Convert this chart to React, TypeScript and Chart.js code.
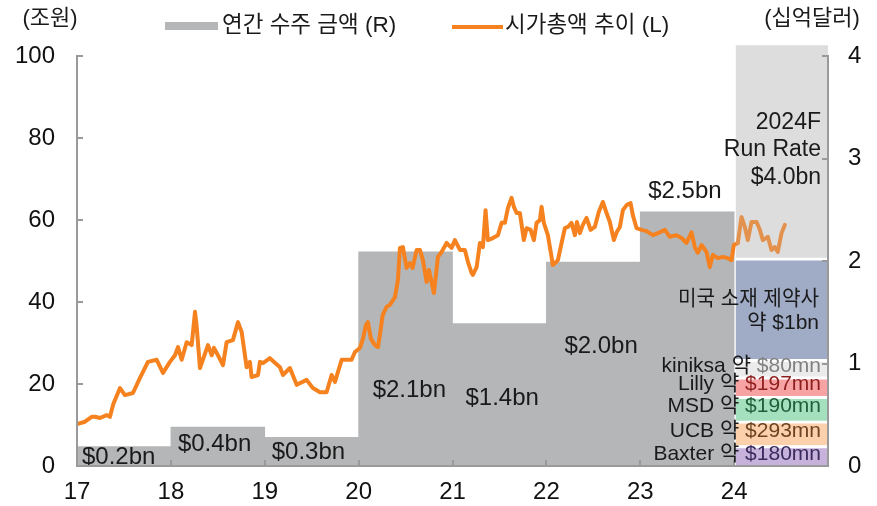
import React, { useEffect, useRef } from "react";
import { Chart, registerables } from "chart.js";

Chart.register(...registerables);

// ---------- data ----------
const xTickLabels = ["17", "18", "19", "20", "21", "22", "23", "24"];

const orderYears = [17, 18, 19, 20, 21, 22, 23];
const annualOrders = [0.19, 0.38, 0.28, 2.09, 1.39, 1.99, 2.48];
const orderLabels = ["$0.2bn", "$0.4bn", "$0.3bn", "$2.1bn", "$1.4bn", "$2.0bn", "$2.5bn"];

const forecastYear = 24;
const forecastParts = ["Baxter", "UCB", "MSD", "Lilly", "kiniksa", "미국 소재 제약사", "2024F Run Rate"];
const forecastValues = [0.2, 0.24, 0.24, 0.19, 0.17, 0.99, 2.1];
const partnerNames = ["Baxter 약 ", "UCB 약 ", "MSD 약 ", "Lilly 약 ", "kiniksa 약 "];
const partnerAmounts = ["$180mn", "$293mn", "$190mn", "$197mn", "$80mn"];
const usPharmaLines = ["미국 소재 제약사", "약 $1bn"];
const runRateLines = ["2024F", "Run Rate", "$4.0bn"];

const legendLabels = ["연간 수주 금액 (R)", "시가총액 추이 (L)"];
const unitLeft = "(조원)";
const unitRight = "(십억달러)";

const capYears = [
  17.0, 17.085, 17.157, 17.192, 17.245, 17.316, 17.351, 17.387, 17.458, 17.511, 17.596, 17.671, 17.756, 17.849, 17.916, 17.99,
  18.044, 18.076, 18.115, 18.168, 18.222, 18.257, 18.275, 18.31, 18.395, 18.435, 18.459, 18.502, 18.555, 18.594, 18.661, 18.715, 18.754, 18.807, 18.842, 18.86, 18.928, 18.949, 18.981,
  19.055, 19.162, 19.194, 19.268, 19.34, 19.446, 19.513, 19.588, 19.659, 19.712, 19.748, 19.819, 19.925, 19.961,
  20.014, 20.046, 20.078, 20.099, 20.131, 20.174, 20.206, 20.227, 20.256, 20.298, 20.333, 20.387, 20.419, 20.44, 20.472, 20.511, 20.546, 20.575, 20.618, 20.653, 20.685, 20.724, 20.749, 20.802, 20.845, 20.884, 20.937, 20.99,
  21.026, 21.079, 21.132, 21.164, 21.203, 21.217, 21.257, 21.292, 21.324, 21.352, 21.377, 21.43, 21.484, 21.523, 21.558, 21.59, 21.629, 21.654, 21.683, 21.718, 21.76, 21.789, 21.832, 21.867, 21.896, 21.931, 21.949, 21.973,
  22.016, 22.055, 22.069, 22.123, 22.162, 22.197, 22.229, 22.268, 22.304, 22.325, 22.357, 22.389, 22.428, 22.471, 22.516, 22.559, 22.602, 22.641, 22.676, 22.719, 22.748, 22.783, 22.815, 22.857, 22.897, 22.921, 22.961,
  23.014, 23.067, 23.134, 23.209, 23.262, 23.315, 23.387, 23.44, 23.493, 23.546, 23.581, 23.613, 23.653, 23.706, 23.741, 23.773, 23.826, 23.88, 23.933, 23.972, 23.997,
  24.039, 24.079, 24.114, 24.146, 24.185, 24.239, 24.274, 24.306, 24.359, 24.398, 24.433, 24.465, 24.505, 24.54,
];
const capValues = [
  10.2, 10.8, 12, 12, 11.7, 12.4, 12, 15.1, 19, 17.3, 17.8, 21.5, 25.4, 25.9, 22.7, 25.4,
  27, 29, 25.9, 30.2, 29.5, 37.6, 34, 23.9, 29.5, 27, 28.8, 27, 24.6, 30.2, 30.7, 35.1, 32.7, 24.1, 25.4, 21.7, 22.2, 25.4, 25.1,
  26.3, 24.1, 22.2, 23.9, 19.8, 21, 19, 18, 18, 22.2, 20.5, 25.9, 25.9, 27.8,
  28.8, 31, 34.4, 35.1, 31, 29.5, 29, 32, 36.8, 38.8, 39.3, 41.2, 45.4, 53.2, 53.4, 48.3, 49.5, 48.3, 52.7, 52.7, 50.2, 44.9, 47.8, 42.2, 51, 52.2, 54.4, 53.2,
  55.1, 52.7, 52.7, 49.8, 47.1, 46.6, 48.5, 54.4, 53.4, 62.4, 55.1, 55.6, 56.3, 59.3, 59.3, 62.9, 65.4, 63.2, 61.7, 61.7, 55.1, 58, 57.6, 55.1, 59.3, 60, 63.2, 59.3,
  56.3, 51, 49, 50.2, 54.4, 58, 58.3, 59.3, 56.3, 59.5, 56.8, 58.8, 60.5, 57.6, 58.3, 62, 64.4, 61.7, 59.5, 55.1, 57, 58.3, 62.4, 63.7, 64.1, 61.2, 58,
  57.6, 57.3, 56.3, 57, 57.6, 55.9, 56.3, 55.6, 54.4, 57, 53.4, 52, 53.9, 52.2, 48.5, 51.5, 50.7, 51, 50.7, 50.2, 53.9,
  54.4, 60.7, 58.3, 55.1, 59.5, 59.5, 57.6, 55.1, 55.9, 52.7, 53.4, 52.2, 56.8, 58.8,
];

// ---------- styles ----------
const FONT = '"Liberation Sans", "Noto Sans CJK KR", sans-serif';
const f = (px: number) => `${px}px ${FONT}`;
const AXIS = "#9a9a9a";
const TEXT = "#1a1a1a";
const BAR_GRAY = "#b5b6b8";
const ORANGE = "#f5821f";
const ORANGE_MUTED = "#e3924e";
const forecastColors = ["#c7b2dc", "#fcd0aa", "#a5e0be", "#f8a3a3", "#ebebeb", "#a0abc6", "#dddddd"];
const amountColors = ["#3a2a5c", "#6b4423", "#1e5e38", "#8e1f1f", "#808080"];

// cumulative ranges of the 2024 stack
const forecastRanges: [number, number][] = (() => {
  let acc = 0;
  return forecastValues.map((v) => {
    const r: [number, number] = [acc, acc + v];
    acc += v;
    return r;
  });
})();

const overlayPlugin = {
  id: "overlay",
  afterDatasetsDraw(chart: any) {
    const { ctx, chartArea: ca, scales } = chart;
    const xs = scales.x;
    const yl = scales.y;
    const yr = scales.y1;
    ctx.save();

    // inward tick marks
    ctx.strokeStyle = AXIS;
    ctx.lineWidth = 2;
    ctx.beginPath();
    yl.ticks.forEach((t: any) => {
      const py = Math.round(yl.getPixelForValue(t.value));
      ctx.moveTo(ca.left, py);
      ctx.lineTo(ca.left + 6, py);
    });
    yr.ticks.forEach((t: any) => {
      const py = Math.round(yr.getPixelForValue(t.value));
      ctx.moveTo(ca.right, py);
      ctx.lineTo(ca.right - 6, py);
    });
    xTickLabels.forEach((_, i) => {
      const px = Math.round(xs.getPixelForValue(17 + i));
      ctx.moveTo(px, ca.bottom);
      ctx.lineTo(px, ca.bottom - 6);
    });
    ctx.stroke();

    // annual order labels
    const dx = [5, 7, 7, 14, 13, 18, 8];
    const dy = [-8.5, -22, -14, -76, -67.5, -120, -275];
    ctx.fillStyle = TEXT;
    ctx.textBaseline = "middle";
    ctx.textAlign = "left";
    ctx.font = f(24);
    orderLabels.forEach((t, i) => {
      ctx.fillText(t, xs.getPixelForValue(orderYears[i]) + dx[i], ca.bottom + dy[i]);
    });

    const centerOf = (i: number) =>
      (yr.getPixelForValue(forecastRanges[i][0]) + yr.getPixelForValue(forecastRanges[i][1])) / 2;
    const rightX = ca.right - 7;

    // run rate text
    ctx.textAlign = "right";
    ctx.font = f(23);
    const rc = centerOf(6);
    runRateLines.forEach((t, i) => ctx.fillText(t, rightX, rc - 28 + i * 27.7));

    // US pharma
    const uc = centerOf(5);
    ctx.font = f(21);
    ctx.fillText(usPharmaLines[0], ca.right - 9, uc - 9, 141);
    ctx.fillText(usPharmaLines[1], ca.right - 9, uc + 15);

    // partner labels
    ctx.font = f(21);
    partnerNames.forEach((name, i) => {
      const py = centerOf(i) - 2;
      const amt = partnerAmounts[i];
      const aw = ctx.measureText(amt).width;
      ctx.fillStyle = amountColors[i];
      ctx.fillText(amt, rightX, py);
      ctx.fillStyle = TEXT;
      ctx.fillText(name, rightX - aw, py);
    });

    ctx.restore();
  },
  afterDraw(chart: any) {
    const { ctx } = chart;
    ctx.save();
    ctx.fillStyle = TEXT;
    ctx.textBaseline = "middle";
    ctx.font = f(22);
    ctx.textAlign = "center";
    ctx.fillText(unitLeft, 50, 19, 62);
    ctx.fillText(unitRight, 812, 19, 102);
    // legend
    ctx.fillStyle = BAR_GRAY;
    ctx.fillRect(165, 22, 53, 8);
    ctx.strokeStyle = ORANGE;
    ctx.lineWidth = 4;
    ctx.beginPath();
    ctx.moveTo(452, 27);
    ctx.lineTo(503, 27);
    ctx.stroke();
    ctx.fillStyle = TEXT;
    ctx.textAlign = "left";
    ctx.font = f(22.5);
    ctx.fillText(legendLabels[0], 222, 26, 178);
    ctx.fillText(legendLabels[1], 505, 26, 174);
    ctx.restore();
  },
};

export default function App() {
  const ref = useRef<HTMLCanvasElement>(null);

  useEffect(() => {
    const canvas = ref.current;
    if (!canvas) return;

    const datasets: any[] = [
      {
        type: "line",
        label: legendLabels[1],
        data: capYears.map((x, i) => ({ x, y: capValues[i] })),
        yAxisID: "y",
        borderColor: ORANGE,
        borderWidth: 4,
        pointRadius: 0,
        tension: 0,
        borderJoinStyle: "round",
        borderCapStyle: "round",
        order: 2,
        segment: {
          borderColor: (c: any) => (c.p0.parsed.x >= forecastYear ? ORANGE_MUTED : undefined),
        },
      },
      {
        type: "bar",
        label: legendLabels[0],
        data: orderYears.map((yr, i) => ({ x: yr + 0.5, y: annualOrders[i] })),
        yAxisID: "y1",
        backgroundColor: BAR_GRAY,
        borderWidth: 0,
        barPercentage: 1,
        categoryPercentage: 1,
        grouped: false,
        order: 3,
      },
      ...forecastParts.map((name, i) => ({
        type: "bar",
        label: name,
        data: [{ x: forecastYear + 0.5, y: forecastRanges[i] }],
        yAxisID: "y1",
        backgroundColor: forecastColors[i],
        borderColor: "#ffffff",
        borderWidth: { top: 3, left: 2, right: 0, bottom: 0 },
        borderSkipped: false,
        barPercentage: 1,
        categoryPercentage: 1,
        grouped: false,
        clip: false,
        order: 3,
      })),
    ];

    const chart = new Chart(canvas, {
      type: "line",
      data: { datasets },
      plugins: [overlayPlugin],
      options: {
        responsive: false,
        animation: false,
        devicePixelRatio: 1,
        layout: { padding: { top: 56, left: 0, right: 0, bottom: 0 } },
        plugins: { legend: { display: false }, tooltip: { enabled: false } },
        scales: {
          x: {
            type: "linear",
            min: 17,
            max: 25,
            offset: false,
            grid: { display: false, drawTicks: false },
            border: { display: true, color: AXIS, width: 2, z: 1 },
            ticks: {
              stepSize: 1,
              autoSkip: false,
              maxRotation: 0,
              padding: 12,
              color: "#111",
              font: { family: FONT, size: 24 },
              callback: (v: any) => xTickLabels[Math.round(Number(v) - 17)] ?? "",
            },
            afterFit: (s: any) => {
              s.height = 40;
            },
          },
          y: {
            type: "linear",
            position: "left",
            min: 0,
            max: 100,
            grid: { display: false, drawTicks: false },
            border: { display: true, color: AXIS, width: 2, z: 1 },
            ticks: { stepSize: 20, padding: 22, color: "#111", font: { family: FONT, size: 24 } },
            afterFit: (s: any) => {
              s.width = 77;
            },
          },
          y1: {
            type: "linear",
            position: "right",
            min: 0,
            max: 4,
            grid: { display: false, drawTicks: false },
            border: { display: true, color: AXIS, width: 2, z: 1 },
            ticks: { stepSize: 1, padding: 20, color: "#111", font: { family: FONT, size: 24 } },
            afterFit: (s: any) => {
              s.width = 49;
            },
          },
        },
      },
    } as any);

    return () => chart.destroy();
  }, []);

  return (
    <div style={{ position: "fixed", left: 0, top: 0, width: 877, height: 506, background: "#ffffff" }}>
      <canvas ref={ref} width={877} height={506} style={{ display: "block", width: 877, height: 506 }} />
    </div>
  );
}
